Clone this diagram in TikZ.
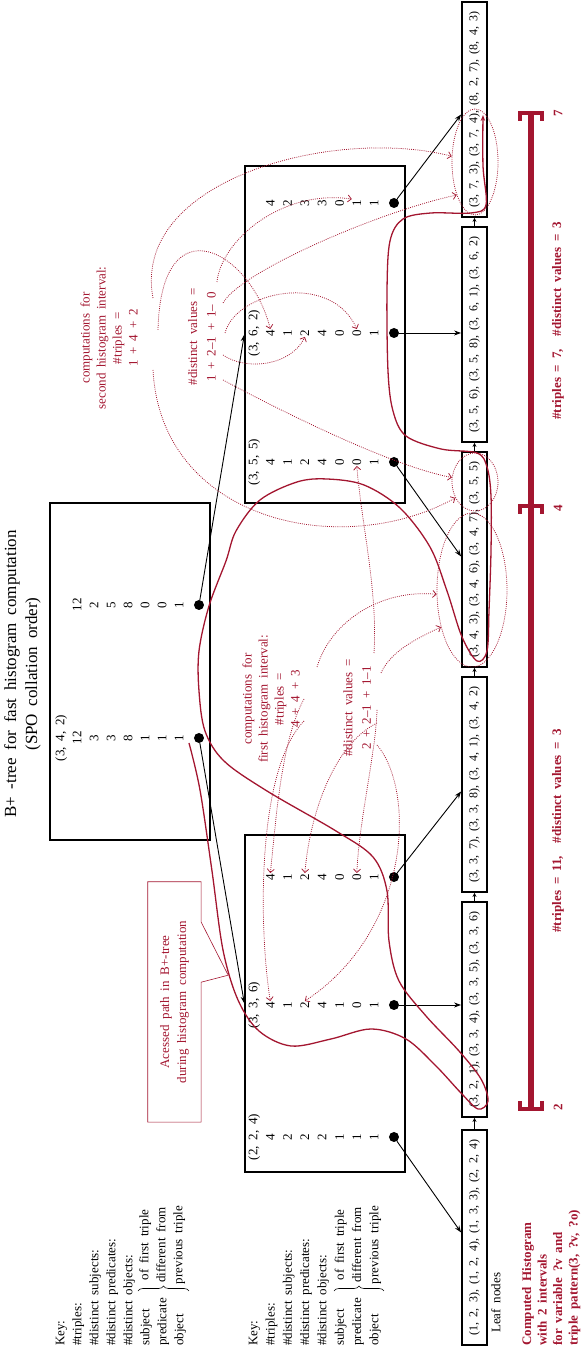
\documentclass[tikz,border=0pt]{standalone}
\usepackage{fontspec}
\setmainfont{Liberation Serif}[WordSpace=1.8]
\usetikzlibrary{arrows.meta,shapes.geometric,decorations.pathreplacing,calc,positioning}
\definecolor{hred}{RGB}{163,22,48}
\tikzset{
  box/.style={draw, line width=1.3pt, minimum width=337pt, minimum height=160pt, inner sep=0pt},
  leaf/.style={draw, line width=1.8pt, minimum width=215pt, minimum height=25pt, inner sep=0pt,
               font=\fontsize{12}{14}\selectfont},
  num/.style={anchor=mid, inner sep=0.5pt},
  kw/.style={anchor=mid west, inner sep=0pt},
  dotn/.style={circle, fill, inner sep=0pt, minimum size=10pt},
  ed/.style={-{Stealth[length=7pt,width=5pt]}, line width=0.9pt},
  edl/.style={-{Stealth[length=4pt,width=4pt]}, line width=0.8pt},
  edr/.style={hred, line width=0.75pt, dash pattern=on 0.9pt off 1.2pt,
              -{Straight Barb[length=3.5pt,width=7pt]}},
  ell/.style={ellipse, draw=hred, line width=0.75pt, dash pattern=on 0.9pt off 1.2pt, inner sep=0pt},
  accpath/.style={hred, line width=1.3pt, -{Stealth[length=6pt,width=4.5pt]}},
  rtxt/.style={text=hred, align=center},
  rbold/.style={text=hred, font=\fontsize{13}{15.5}\selectfont\bfseries},
  hcap/.style={hred, line width=4.5pt},
  brc/.style={decorate, decoration={brace, amplitude=5pt}, line width=0.6pt}
}
\begin{document}
\begin{tikzpicture}[x=1pt, y=1pt, rotate=90, transform shape, font=\fontsize{13}{16}\selectfont]
\useasboundingbox (0,0) rectangle (1351,581);

\node[align=center, font=\fontsize{17}{21}\selectfont] (title) at (677,558.5)
  {B+ -tree for fast histogram computation\\(SPO collation order)};

\foreach \t [count=\i] in {Key:,\#triples:,\#distinct subjects:,\#distinct predicates:,\#distinct objects:,subject,predicate,object}
  \node[kw] (ka-\i) at (5,536-17*\i) {\t};
\draw[brc] (60,443) -- (60,392);
\node[num] (ka-9) at (106,435) {of first triple};
\node[num] (ka-10) at (106,418) {different from};
\node[num] (ka-11) at (106,401) {previous triple};

\foreach \t [count=\i] in {Key:,\#triples:,\#distinct subjects:,\#distinct predicates:,\#distinct objects:,subject,predicate,object}
  \node[kw] (kb-\i) at (5,343.3-17.3*\i) {\t};
\draw[brc] (60,247) -- (60,197);
\node[num] (kb-9) at (106,239.5) {of first triple};
\node[num] (kb-10) at (106,222.2) {different from};
\node[num] (kb-11) at (106,204.9) {previous triple};

\node[box] (root) at (679.5,451) {};
\node[num] (rh1) at (613,519) {(3, 4, 2)};
\foreach \v [count=\i] in {12,3,3,8,1,1,1}
  \node[num] (r1-\i) at (613,519-17*\i) {\v};
\foreach \v [count=\i] in {12,2,5,8,0,0,1}
  \node[num] (r2-\i) at (746,519-17*\i) {\v};
\node[dotn] (rd1) at (613,382) {};
\node[dotn] (rd2) at (746,382) {};

\node[box] (inL) at (347.5,256) {};
\node[num] (ah1) at (214,326) {(2, 2, 4)};
\node[num] (ah2) at (346,326) {(3, 3, 6)};
\foreach \v [count=\i] in {4,2,2,2,1,1,1}
  \node[num] (a1-\i) at (214,326-17.3*\i) {\v};
\foreach \v [count=\i] in {4,1,2,4,1,0,1}
  \node[num] (a2-\i) at (346,326-17.3*\i) {\v};
\foreach \v [count=\i] in {4,1,2,4,0,0,1}
  \node[num] (a3-\i) at (474,326-17.3*\i) {\v};
\node[dotn] (ad1) at (214,187) {};
\node[dotn] (ad2) at (346,187) {};
\node[dotn] (ad3) at (474,187) {};

\node[box] (inR) at (1016.5,256) {};
\node[num] (bh1) at (889,326) {(3, 5, 5)};
\node[num] (bh2) at (1018,326) {(3, 6, 2)};
\foreach \v [count=\i] in {4,1,2,4,0,0,1}
  \node[num] (b1-\i) at (889,326-17.3*\i) {\v};
\foreach \v [count=\i] in {4,1,2,4,0,0,1}
  \node[num] (b2-\i) at (1018,326-17.3*\i) {\v};
\foreach \v [count=\i] in {4,2,3,3,0,1,1}
  \node[num] (b3-\i) at (1148,326-17.3*\i) {\v};
\node[dotn] (bd1) at (889,187) {};
\node[dotn] (bd2) at (1018,187) {};
\node[dotn] (bd3) at (1148,187) {};

\node[leaf] (l1) at (113.5,106.5) {(1, 2, 3), (1, 2, 4), (1, 3, 3), (2, 2, 4)};
\node[leaf] (l2) at (341.5,106.5) {(3, 2, 1), (3, 3, 4), (3, 3, 5), (3, 3, 6)};
\node[leaf] (l3) at (566.5,106.5) {(3, 3, 7), (3, 3, 8), (3, 4, 1), (3, 4, 2)};
\node[leaf] (l4) at (791.5,106.5) {(3, 4, 3), (3, 4, 6), (3, 4, 7), (3, 5, 5)};
\node[leaf] (l5) at (1016.5,106.5) {(3, 5, 6), (3, 5, 8), (3, 6, 1), (3, 6, 2)};
\node[leaf] (l6) at (1241.5,106.5) {(3, 7, 3), (3, 7, 4), (8, 2, 7), (8, 4, 3)};
\node[kw] (lfn) at (18,83) {Leaf nodes};
\foreach \a/\b in {l1/l2,l2/l3,l3/l4,l4/l5,l5/l6}
  \draw[edl] (\a) -- (\b);

\draw[ed] (rd1) -- (inL.north);
\draw[ed] (rd2) -- (inR.north);
\draw[ed] (ad1) -- ($(l1.north)+(5,0)$);
\draw[ed] (ad2) -- ($(l2.north)+(4.5,0)$);
\draw[ed] (ad3) -- ($(l3.north)+(-7,0)$);
\draw[ed] (bd1) -- ($(l4.north)+(3,0)$);
\draw[ed] (bd2) -- ($(l5.north)+(1.5,0)$);
\draw[ed] (bd3) -- ($(l6.north)+(-5,0)$);

\node[rtxt, minimum width=240pt, minimum height=53pt, inner sep=0pt, font=\fontsize{13}{17}\selectfont] (note)
  at (349,406.5) {Acessed path in B+-tree\\during histogram computation};
\draw[hred, line width=0.6pt] (note.south west) -- ++(140,0) -- ++(7,-27) -- ++(53,27)
  -- (note.south east) -- (note.north east) -- (note.north west) -- cycle;

\node[rtxt] (c1) at (652,310) {computations for\\first histogram interval:\\\#triples =\\4 + 4 + 3};
\node[rtxt, font=\fontsize{13}{18.5}\selectfont] (d1) at (643,224) {\#distinct values =\\2 + 2--1 + 1--1};
\node[rtxt] (c2) at (1013,472) {computations for\\second histogram interval:\\\#triples =\\1 + 4 + 2};
\node[rtxt, font=\fontsize{13}{18.5}\selectfont] (d2) at (1014,379) {\#distinct values =\\1 + 2--1 + 1-- 0};

\node[ell, minimum width=106pt, minimum height=46pt] (e1) at (1189,106) {};
\node[ell, minimum width=58pt, minimum height=46pt] (e2) at (869,106) {};
\node[ell, minimum width=154pt, minimum height=70pt] (e3) at (761,109) {};

\coordinate (t1s) at (630,277);
\coordinate (t2s) at (652,277);
\coordinate (t3s) at (684,264);
\coordinate (d1s) at (606,204);
\coordinate (d2s) at (628,204);
\coordinate (d3s) at (641,204);
\coordinate (d4s) at (678,200);
\coordinate (d5s) at (698,207);
\draw[edr] (t1s) .. controls (580,325) and (420,322) .. (a2-1.east);
\draw[edr] (t2s) .. controls (610,300) and (530,305) .. (a3-1.east);
\draw[edr] (t3s) .. controls (730,250) and (762,200) .. (e3.97);
\draw[edr] (d1s) .. controls (560,165) and (420,170) .. (a2-3.east);
\draw[edr] (d2s) .. controls (605,250) and (530,272) .. (a3-3.east);
\draw[edr] (d3s) .. controls (600,205) and (530,222) .. (a3-6.east);
\draw[edr] (d4s) .. controls (700,190) and (712,165) .. (e3.140);
\draw[edr] (d5s) .. controls (760,203) and (830,220) .. (b1-6.west);

\coordinate (s1s) at (1053,428);
\coordinate (s2s) at (1021,423);
\coordinate (s3s) at (981,428);
\coordinate (s4s) at (971,358);
\coordinate (s5s) at (996,358);
\coordinate (s6s) at (1018,356);
\coordinate (s7s) at (1069,364);
\coordinate (s8s) at (1048,358);
\draw[edr] (s1s) .. controls (1170,450) and (1225,250) .. (e1.76);
\draw[edr] (s2s) .. controls (1150,420) and (1100,330) .. (b2-1.east);
\draw[edr] (s3s) .. controls (830,420) and (790,240) .. (e2.129);
\draw[edr] (s4s) .. controls (940,300) and (885,190) .. (e2.79);
\draw[edr] (s5s) .. controls (980,335) and (985,290) .. (b2-3.west);
\draw[edr] (s6s) .. controls (1060,345) and (1080,250) .. (b2-6.east);
\draw[edr] (s7s) .. controls (1110,360) and (1162,300) .. (b3-6.north east);
\draw[edr] (s8s) .. controls (1080,340) and (1140,200) .. (e1.151);

\draw[accpath] plot[smooth, tension=0.55] coordinates {
  (608,392) (561,381) (480,369) (401,358) (351,343) (320,322) (305,290) (312,250)
  (322,210) (312,175) (285,145) (258,120) (242,103) (250,93) (272,100) (300,122)
  (335,155) (370,182) (410,192) (460,194) (494,208) (520,245) (560,314) (590,357)
  (620,376) (660,382) (700,382) (745,372) (790,355) (820,345) (851,321) (869,284)
  (872,254) (866,217) (843,181) (804,151) (760,134) (714,119) (690,104) (700,94)
  (740,92) (800,90) (855,90) (884,94) (898,104) (902,140) (915,175) (940,188)
  (980,193) (1060,194) (1110,191) (1132,178) (1138,150) (1138,110) (1146,95)
  (1185,98) (1236,98)};

\coordinate (h2) at (242,50);
\coordinate (h4) at (845,50);
\coordinate (h7) at (1238,50);
\draw[hred, line width=6.5pt] (h2) -- (h7);
\draw[hcap] (250,39) -- (242,39) -- (242,61) -- (250,61);
\draw[hcap] (837,39) -- (845,39) -- (845,61) -- (837,61);
\draw[hcap] (1230,39) -- (1238,39) -- (1238,61) -- (1230,61);
\node[rbold] (n2) at (244,23) {2};
\node[rbold] (n4) at (843,23) {4};
\node[rbold] (n7) at (1238,23) {7};
\node[rbold] (hl1) at (520,23) {\#triples = 11,\quad \#distinct values = 3};
\node[rbold] (hl2) at (1030,23) {\#triples = 7,\quad \#distinct values = 3};
\node[rbold, align=left, anchor=north west, inner sep=0pt] (comp) at (5,59)
  {Computed Histogram\\with 2 intervals\\for variable ?v and\\triple pattern(3, ?v, ?o)};
\end{tikzpicture}
\end{document}
